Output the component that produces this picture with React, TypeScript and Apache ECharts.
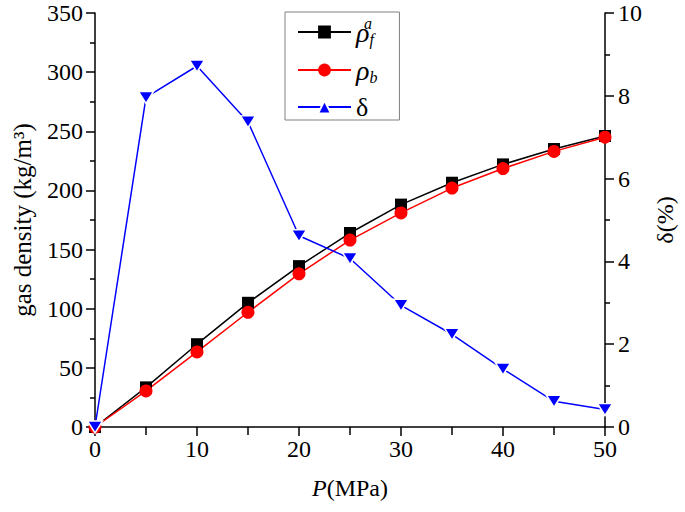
import React, { useEffect, useRef } from "react";
import * as echarts from "echarts";

const pressure = [0, 5, 10, 15, 20, 25, 30, 35, 40, 45, 50];
const rhoF = [0, 33.5, 70, 105, 136, 164, 188, 206.5, 222, 235, 246];
const rhoB = [0, 30.5, 63.5, 97, 129.5, 158, 181, 202, 218.5, 233, 245];
const delta = [0, 7.96, 8.72, 7.37, 4.62, 4.07, 2.94, 2.24, 1.4, 0.62, 0.42];

const FONT = "'Liberation Serif', 'Times New Roman', serif";

export default function App() {
  const ref = useRef<HTMLDivElement>(null);
  useEffect(() => {
    if (!ref.current) return;
    const chart = echarts.init(ref.current, null, { renderer: "svg" });
    const pair = (ys: number[]) => pressure.map((p, i) => [p, ys[i]]);
    const axisCommon = {
      axisLine: { show: true, lineStyle: { color: "#000", width: 1.5 } },
      axisTick: { show: true, inside: false, length: 9, lineStyle: { color: "#000", width: 1.5 } },
      minorTick: { show: true, splitNumber: 2, length: 5, lineStyle: { color: "#000", width: 1.5 } },
      splitLine: { show: false },
      axisLabel: { color: "#000", fontFamily: FONT, fontSize: 24, margin: 12 },
      nameTextStyle: { color: "#000", fontFamily: FONT, fontSize: 24 },
    };
    chart.setOption({
      animation: false,
      backgroundColor: "#fff",
      grid: { left: 95, right: 79, top: 13, bottom: 85 },
      xAxis: {
        type: "value",
        min: 0,
        max: 50,
        interval: 10,
        ...axisCommon,
        axisLabel: { color: "#000", fontFamily: FONT, fontSize: 24, margin: 10 },
        minorTick: { show: true, splitNumber: 2, length: 8, lineStyle: { color: "#000", width: 1.5 } },
        name: "{i|P}(MPa)",
        nameLocation: "middle",
        nameGap: 49,
        nameTextStyle: {
          color: "#000",
          fontFamily: FONT,
          fontSize: 24,
          rich: {
            i: { fontFamily: FONT, fontSize: 24, fontStyle: "italic", color: "#000" },
          },
        },
      },
      yAxis: [
        {
          type: "value",
          min: 0,
          max: 350,
          interval: 50,
          ...axisCommon,
          name: "gas density (kg/m³)",
          nameLocation: "middle",
          nameGap: 60,
          nameRotate: 90,
          nameTextStyle: { color: "#000", fontFamily: FONT, fontSize: 25 },
        },
        {
          type: "value",
          position: "right",
          min: 0,
          max: 10,
          interval: 2,
          ...axisCommon,
          axisLabel: { color: "#000", fontFamily: FONT, fontSize: 24, margin: 13 },
          name: "δ(%)",
          nameLocation: "middle",
          nameGap: 48,
          nameRotate: 90,
        },
      ],
      legend: {
        orient: "vertical",
        left: 285,
        top: 12,
        itemWidth: 53,
        itemHeight: 16,
        itemGap: 9,
        padding: [6, 22, 0, 12],
        borderColor: "#808080",
        borderWidth: 1,
        symbolRotate: 0,
        data: ["rhoF", "rhoB", "delta"],
        formatter: (name: string) =>
          name === "rhoF" ? "{r|ρ}{s|f}" : name === "rhoB" ? "{r|ρ}{s|b}" : "{d|δ}",
        textStyle: {
          color: "#000",
          rich: {
            r: { fontFamily: FONT, fontStyle: "italic", fontSize: 28, color: "#000", lineHeight: 30 },
            s: {
              fontFamily: FONT,
              fontStyle: "italic",
              fontSize: 16,
              color: "#000",
              verticalAlign: "bottom",
              padding: [14, 0, 0, 0],
            },
            d: { fontFamily: FONT, fontStyle: "normal", fontSize: 26, color: "#000", lineHeight: 30 },
          },
        },
      },
      graphic: [
        {
          type: "text",
          left: 364,
          top: 15,
          style: { text: "a", font: `italic 16px ${FONT}`, fill: "#000" },
        },
      ],
      series: [
        {
          name: "rhoF",
          type: "line",
          data: pair(rhoF),
          symbol: "rect",
          symbolSize: 12,
          color: "#000",
          lineStyle: { color: "#000", width: 1.5 },
          itemStyle: { color: "#000" },
        },
        {
          name: "rhoB",
          type: "line",
          data: pair(rhoB),
          symbol: "circle",
          symbolSize: 13,
          color: "#ff0000",
          lineStyle: { color: "#ff0000", width: 1.5 },
          itemStyle: { color: "#ff0000" },
        },
        {
          name: "delta",
          type: "line",
          yAxisIndex: 1,
          data: pair(delta),
          symbol: "triangle",
          symbolRotate: 180,
          symbolSize: [15, 12],
          color: "#0000ff",
          lineStyle: { color: "#0000ff", width: 1.5 },
          itemStyle: { color: "#0000ff", borderColor: "#fff", borderWidth: 1.5 },
        },
      ],
    });
    return () => chart.dispose();
  }, []);
  return (
    <div
      ref={ref}
      style={{ width: 685, height: 512, position: "absolute", left: 0, top: 0 }}
    />
  );
}
